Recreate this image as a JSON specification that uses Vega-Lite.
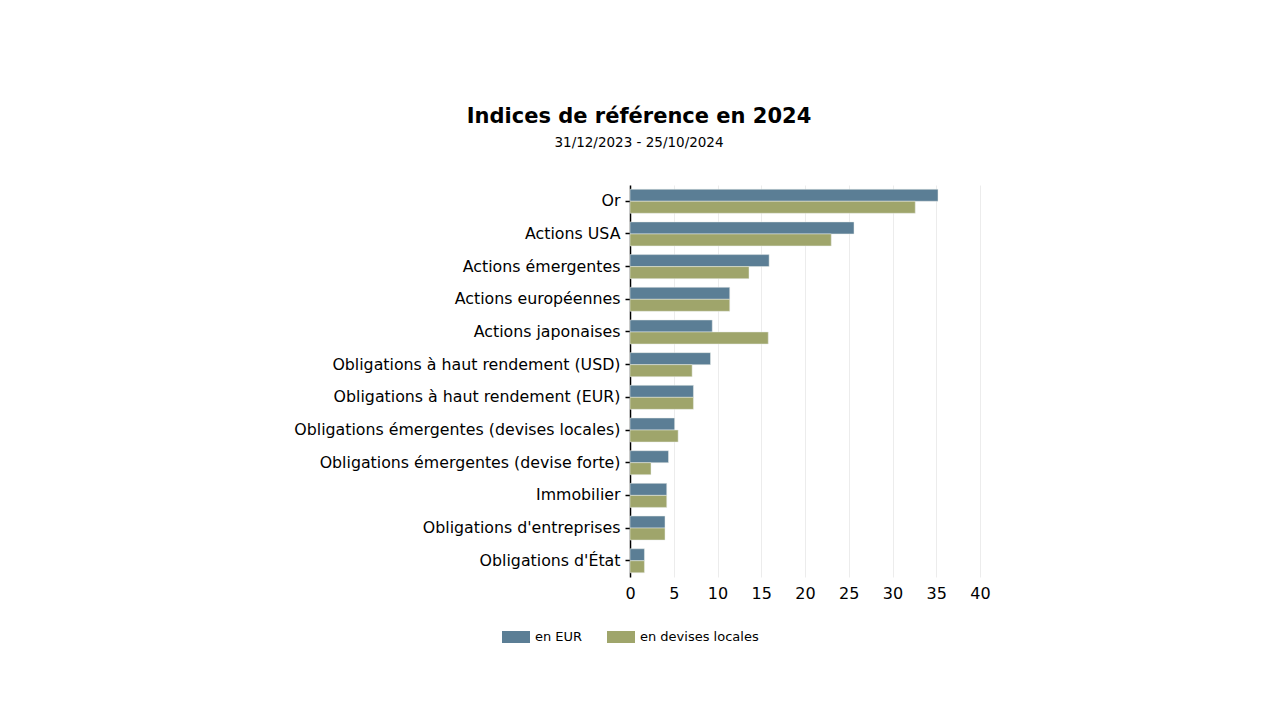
{
  "$schema": "https://vega.github.io/schema/vega-lite/v6.json",
  "autosize": {"type": "none"},
  "width": 350,
  "height": 392,
  "padding": {"left": 630, "top": 185, "right": 300, "bottom": 143},
  "background": "white",
  "config": {"font": "DejaVu Sans", "view": {"stroke": null}},
  "title": {
    "text": "Indices de référence en 2024",
    "subtitle": "31/12/2023 - 25/10/2024",
    "anchor": "middle",
    "dx": -166,
    "fontSize": 21,
    "fontWeight": "bold",
    "color": "#000000",
    "subtitleFontSize": 13.5,
    "subtitleColor": "#000000",
    "subtitlePadding": 9,
    "offset": 36,
    "font": "DejaVu Sans",
    "subtitleFont": "DejaVu Sans"
  },
  "data": {
    "values": [
      {"indice": "Or", "serie": "en EUR", "valeur": 35.2},
      {"indice": "Or", "serie": "en devises locales", "valeur": 32.6},
      {"indice": "Actions USA", "serie": "en EUR", "valeur": 25.6},
      {"indice": "Actions USA", "serie": "en devises locales", "valeur": 23.0},
      {"indice": "Actions émergentes", "serie": "en EUR", "valeur": 15.9},
      {"indice": "Actions émergentes", "serie": "en devises locales", "valeur": 13.6},
      {"indice": "Actions européennes", "serie": "en EUR", "valeur": 11.4},
      {"indice": "Actions européennes", "serie": "en devises locales", "valeur": 11.4},
      {"indice": "Actions japonaises", "serie": "en EUR", "valeur": 9.4},
      {"indice": "Actions japonaises", "serie": "en devises locales", "valeur": 15.8},
      {"indice": "Obligations à haut rendement (USD)", "serie": "en EUR", "valeur": 9.2},
      {"indice": "Obligations à haut rendement (USD)", "serie": "en devises locales", "valeur": 7.1},
      {"indice": "Obligations à haut rendement (EUR)", "serie": "en EUR", "valeur": 7.25},
      {"indice": "Obligations à haut rendement (EUR)", "serie": "en devises locales", "valeur": 7.25},
      {"indice": "Obligations émergentes (devises locales)", "serie": "en EUR", "valeur": 5.1},
      {"indice": "Obligations émergentes (devises locales)", "serie": "en devises locales", "valeur": 5.5},
      {"indice": "Obligations émergentes (devise forte)", "serie": "en EUR", "valeur": 4.4},
      {"indice": "Obligations émergentes (devise forte)", "serie": "en devises locales", "valeur": 2.4},
      {"indice": "Immobilier", "serie": "en EUR", "valeur": 4.2},
      {"indice": "Immobilier", "serie": "en devises locales", "valeur": 4.2},
      {"indice": "Obligations d'entreprises", "serie": "en EUR", "valeur": 4.0},
      {"indice": "Obligations d'entreprises", "serie": "en devises locales", "valeur": 4.0},
      {"indice": "Obligations d'État", "serie": "en EUR", "valeur": 1.65},
      {"indice": "Obligations d'État", "serie": "en devises locales", "valeur": 1.65}
    ]
  },
  "mark": {"type": "bar", "stroke": "#e8ece8", "strokeWidth": 0.5},
  "encoding": {
    "y": {
      "field": "indice",
      "type": "nominal",
      "sort": null,
      "scale": {"paddingInner": 0.265, "paddingOuter": 0.13},
      "axis": {
        "title": null,
        "labelFontSize": 15.8,
        "labelColor": "#000000",
        "labelPadding": 5,
        "domainColor": "#000000",
        "domainWidth": 1.5,
        "tickColor": "#000000",
        "tickSize": 5,
        "tickWidth": 1.5,
        "grid": false,
        "labelLimit": 400
      }
    },
    "yOffset": {
      "field": "serie",
      "type": "nominal",
      "sort": ["en EUR", "en devises locales"],
      "scale": {"paddingInner": 0, "paddingOuter": 0}
    },
    "x": {
      "field": "valeur",
      "type": "quantitative",
      "scale": {"domain": [0, 40], "nice": false},
      "axis": {
        "title": null,
        "values": [0, 5, 10, 15, 20, 25, 30, 35, 40],
        "labelFontSize": 16,
        "labelColor": "#000000",
        "labelPadding": 8,
        "labelFlush": false,
        "domain": false,
        "ticks": false,
        "grid": true,
        "gridColor": "#ececec",
        "gridWidth": 1
      }
    },
    "color": {
      "field": "serie",
      "type": "nominal",
      "sort": ["en EUR", "en devises locales"],
      "scale": {"domain": ["en EUR", "en devises locales"], "range": ["#5b7e95", "#9fa56b"]},
      "legend": {
        "title": null,
        "orient": "none",
        "direction": "horizontal",
        "legendX": -128,
        "legendY": 438,
        "symbolType": "M-1,-0.43L1,-0.43L1,0.43L-1,0.43Z",
        "symbolSize": 784,
        "symbolStrokeWidth": 0,
        "symbolOpacity": 1,
        "labelFontSize": 13,
        "labelColor": "#000000",
        "columnPadding": 24,
        "labelOffset": 5
      }
    }
  }
}
